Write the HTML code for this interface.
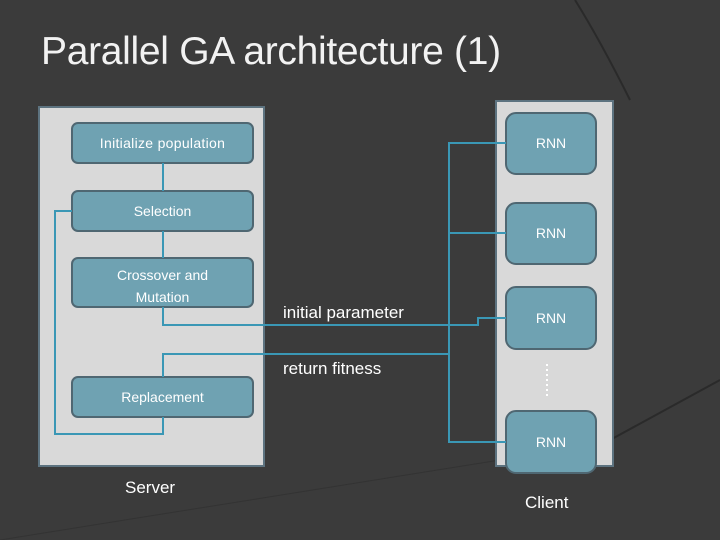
<!DOCTYPE html>
<html><head><meta charset="utf-8"><style>
body{margin:0;width:720px;height:540px;background:#3b3b3b;overflow:hidden;font-family:"Liberation Sans",sans-serif;position:relative}
.t{position:absolute;color:#fff;white-space:nowrap}
</style></head><body>
<svg width="720" height="540" style="position:absolute;left:0;top:0">
<path d="M575 0 Q600 40 630 100" stroke="#2a2a2a" stroke-width="2" fill="none"/>
<path d="M610 440 L720 380" stroke="#2a2a2a" stroke-width="2" fill="none"/>
<path d="M0 540 L500 460" stroke="#333" stroke-width="1" fill="none"/>
<rect x="39" y="107" width="225" height="359" fill="#d9d9d9" stroke="#5d7380" stroke-width="2"/>
<rect x="496" y="101" width="117" height="365" fill="#d9d9d9" stroke="#5d7380" stroke-width="2"/>
<g fill="#6fa2b2" stroke="#4f6772" stroke-width="2">
<rect x="72" y="123" width="181" height="40" rx="6"/>
<rect x="72" y="191" width="181" height="40" rx="6"/>
<rect x="72" y="258" width="181" height="49" rx="6"/>
<rect x="72" y="377" width="181" height="40" rx="6"/>
<rect x="506" y="113" width="90" height="61" rx="10"/>
<rect x="506" y="203" width="90" height="61" rx="10"/>
<rect x="506" y="287" width="90" height="62" rx="10"/>
<rect x="506" y="411" width="90" height="62" rx="10"/>
</g>
<g stroke="#3a97b5" stroke-width="2" fill="none">
<path d="M163 163 V191"/>
<path d="M163 231 V258"/>
<path d="M163 307 V325 H478 V318 H506"/>
<path d="M449 354 H163 V377"/>
<path d="M163 417 V434 H55 V211 H72"/>
<path d="M506 143 H449 V442 H506"/>
<path d="M449 233 H506"/>
</g>
<line x1="547" y1="364" x2="547" y2="398" stroke="#fff" stroke-width="2" stroke-dasharray="2,3"/>
</svg>
<div class="t" style="left:41px;top:30px;font-size:39px;letter-spacing:-0.3px;color:#f2f2f2">Parallel GA architecture (1)</div>
<div class="t" style="left:72px;width:181px;text-align:center;top:135px;font-size:14px;letter-spacing:0.3px">Initialize population</div>
<div class="t" style="left:72px;width:181px;text-align:center;top:203px;font-size:14px">Selection</div>
<div class="t" style="left:72px;width:181px;text-align:center;top:264px;font-size:14px;line-height:22px">Crossover and<br>Mutation</div>
<div class="t" style="left:72px;width:181px;text-align:center;top:389px;font-size:14px">Replacement</div>
<div class="t" style="left:506px;width:90px;text-align:center;top:135px;font-size:14px">RNN</div>
<div class="t" style="left:506px;width:90px;text-align:center;top:225px;font-size:14px">RNN</div>
<div class="t" style="left:506px;width:90px;text-align:center;top:310px;font-size:14px">RNN</div>
<div class="t" style="left:506px;width:90px;text-align:center;top:434px;font-size:14px">RNN</div>
<div class="t" style="left:283px;top:303px;font-size:17px">initial parameter</div>
<div class="t" style="left:283px;top:359px;font-size:17px">return fitness</div>
<div class="t" style="left:125px;top:478px;font-size:17px">Server</div>
<div class="t" style="left:525px;top:493px;font-size:17px">Client</div>
</body></html>
